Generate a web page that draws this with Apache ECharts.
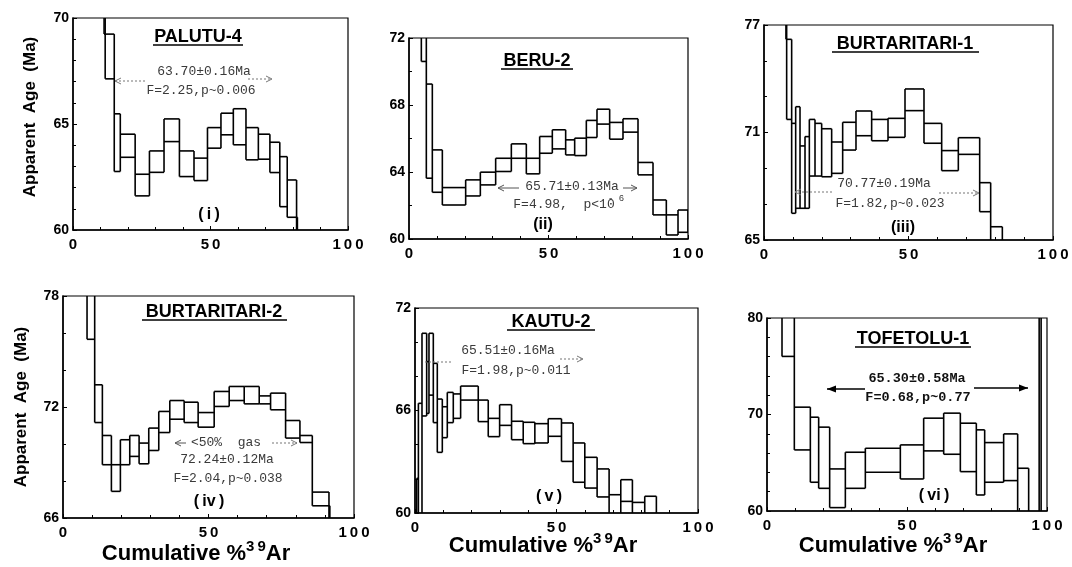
<!DOCTYPE html>
<html><head><meta charset="utf-8">
<script src="https://cdn.jsdelivr.net/npm/echarts/dist/echarts.min.js"></script>
<style>html,body{margin:0;padding:0;background:#fff}#c{width:1072px;height:567px}</style>
</head><body><div id="c"></div><script>
// ---------- DATA (cumulative %39Ar step boundaries, age box top/bottom in Ma) ----------
const palutuSteps = [11.3, 11.7, 15.0, 17.2, 22.6, 27.8, 33.1, 38.7, 44.0, 48.9, 53.8, 58.3, 62.9, 67.4, 71.6, 75.2, 77.9, 81.3, 81.6];
const palutuHi = [80, 69.24, 65.48, 64.52, 62.63, 63.73, 65.24, 63.73, 63.39, 64.83, 65.51, 65.72, 64.83, 64.52, 64.14, 63.46, 62.36, 60.60];
const palutuLo = [69.24, 67.13, 62.76, 63.43, 61.61, 62.72, 64.17, 62.52, 62.33, 63.86, 64.49, 64.02, 63.31, 63.34, 62.71, 61.10, 60.60, 50];

const beruSteps = [4.42, 6.21, 8.36, 11.95, 20.31, 25.57, 31.06, 36.68, 42.05, 46.83, 51.37, 56.15, 59.38, 63.56, 67.38, 71.92, 76.70, 82.08, 87.46, 92.23, 96.42, 100];
const beruHi = [80, 69.25, 65.32, 63.07, 63.53, 63.99, 64.82, 65.68, 64.82, 66.12, 66.52, 65.92, 66.02, 67.08, 67.75, 66.96, 67.18, 64.57, 62.33, 61.44, 61.73];
const beruLo = [70.6, 63.63, 62.79, 62.03, 62.57, 63.23, 64.03, 64.82, 63.89, 65.12, 65.38, 65.02, 64.98, 66.06, 66.86, 65.96, 66.38, 63.83, 61.44, 60.24, 60.40];

const burt1Steps = [7.6, 7.84, 9.57, 10.96, 12.46, 14.19, 15.69, 17.65, 19.95, 23.41, 27.22, 31.83, 37.25, 42.91, 48.79, 55.36, 61.48, 67.24, 74.63, 78.43, 82.47];
const burt1Hi = [80, 76.2, 71.51, 72.44, 70.25, 70.77, 71.73, 71.51, 71.21, 70.47, 71.57, 72.2, 71.73, 71.79, 73.43, 71.51, 69.99, 70.71, 68.2, 65.74];
const burt1Lo = [76.2, 71.73, 66.49, 66.77, 66.77, 66.77, 68.57, 68.57, 68.53, 68.72, 70.02, 70.82, 70.54, 70.73, 72.22, 70.40, 68.87, 69.78, 66.58, 60];

const burt2Steps = [8.26, 10.89, 13.53, 16.63, 19.72, 22.94, 26.15, 29.47, 32.91, 36.70, 41.63, 46.44, 51.95, 57.11, 62.27, 67.43, 71.33, 76.49, 81.42, 85.67, 91.40, 91.7];
const burt2Hi = [85, 73.2, 70.46, 68.88, 70.23, 70.46, 70.05, 70.86, 71.76, 72.35, 72.26, 71.70, 72.84, 73.11, 73.11, 72.6, 72.75, 71.27, 70.46, 67.40, 66.66];
const burt2Lo = [75.66, 71.16, 68.88, 67.44, 68.88, 69.33, 68.93, 69.65, 70.62, 71.34, 71.16, 70.91, 72.03, 72.35, 72.17, 72.17, 71.85, 70.32, 70.08, 66.66, 50];

const kautuSteps = [0.6, 1.2, 2.47, 4.12, 4.94, 6.47, 7.88, 9.65, 11.41, 13.53, 16.12, 22.35, 25.88, 29.9, 34.12, 38.24, 42.35, 47.06, 51.76, 55.88, 60.0, 64.35, 68.59, 72.71, 76.82, 81.18, 85.29];
const kautuHi = [62.03, 66.42, 70.52, 68.86, 70.52, 68.76, 66.67, 66.22, 67.06, 66.97, 67.43, 66.61, 65.54, 66.34, 65.37, 65.31, 65.23, 65.52, 65.27, 64.10, 63.26, 62.58, 61.07, 61.95, 60.62, 60.98];
const kautuLo = [50, 50, 65.68, 65.83, 66.9, 65.29, 63.55, 64.41, 65.29, 65.54, 66.61, 65.35, 64.47, 65.13, 64.29, 64.06, 64.10, 64.49, 63.02, 61.80, 61.46, 60.94, 59.5, 60.68, 59.5, 59.5];

const tofeSteps = [5.36, 9.76, 15.48, 18.45, 22.38, 27.98, 35.12, 47.62, 55.95, 63.10, 69.05, 74.76, 77.74, 84.52, 89.52, 93.45, 97.2, 97.9];
const tofeHi = [85, 70.76, 69.72, 68.69, 64.36, 66.09, 66.51, 66.85, 69.62, 70.14, 69.10, 68.41, 67.09, 67.99, 64.43, 58, 90];
const tofeLo = [76.02, 66.33, 62.98, 62.35, 60.35, 62.35, 64.01, 63.32, 66.23, 65.88, 64.08, 61.66, 62.98, 63.15, 55, 55, 50];

const panelNames = ['PALUTU-4', 'BERU-2', 'BURTARITARI-1', 'BURTARITARI-2', 'KAUTU-2', 'TOFETOLU-1'];
const xTicks = [0, 50, 100];
const yTicks = [[60, 65, 70], [60, 64, 68, 72], [65, 71, 77], [66, 72, 78], [60, 66, 72], [60, 70, 80]];

// ---------- LAYOUT ----------
const panels = [
  {steps: palutuSteps, hi: palutuHi, lo: palutuLo, ySplit: 5, grid: {left: 73, top: 18, width: 275, height: 212}},
  {steps: beruSteps, hi: beruHi, lo: beruLo, ySplit: 2, grid: {left: 409, top: 38, width: 279, height: 201}},
  {steps: burt1Steps, hi: burt1Hi, lo: burt1Lo, ySplit: 3, grid: {left: 764, top: 25, width: 289, height: 215}},
  {steps: burt2Steps, hi: burt2Hi, lo: burt2Lo, ySplit: 3, grid: {left: 63, top: 296, width: 291, height: 222}},
  {steps: kautuSteps, hi: kautuHi, lo: kautuLo, ySplit: 3, grid: {left: 415, top: 308, width: 283, height: 205}},
  {steps: tofeSteps, hi: tofeHi, lo: tofeLo, ySplit: 5, grid: {left: 767, top: 318, width: 280, height: 193}}
];
const titlePos = [[198, 37, 153, 243, 45], [537, 61, 501, 573, 69], [905, 44, 832, 979, 52], [214, 312, 142, 287, 320], [551, 322, 507, 595, 330], [913, 339, 855, 971, 347]];

const grids = [], xAxes = [], yAxes = [], series = [];
const spaced = v => String(v).split('').join('\u2009');
panels.forEach((p, i) => {
  const yt = yTicks[i];
  const yInt = yt[1] - yt[0];
  grids.push(Object.assign({show: true, borderColor: '#000', borderWidth: 1.2, backgroundColor: 'transparent'}, p.grid));
  xAxes.push({
    gridIndex: i, type: 'value', min: xTicks[0], max: xTicks[xTicks.length - 1], interval: xTicks[1] - xTicks[0],
    axisLine: {show: true, onZero: false, lineStyle: {color: '#000', width: 1.5}},
    axisTick: {show: true, inside: true, length: 4, lineStyle: {color: '#000', width: 1}},
    minorTick: {show: true, splitNumber: 5, length: 3, lineStyle: {color: '#000', width: 1}},
    splitLine: {show: false},
    axisLabel: {color: '#000', fontWeight: 'bold', fontSize: 15, fontFamily: 'Liberation Sans', margin: 7, formatter: spaced}
  });
  yAxes.push({
    gridIndex: i, type: 'value', min: yt[0], max: yt[yt.length - 1], interval: yInt,
    axisLine: {show: true, onZero: false, lineStyle: {color: '#000', width: 1.5}},
    axisTick: {show: true, inside: true, length: 4, lineStyle: {color: '#000', width: 1}},
    minorTick: {show: true, splitNumber: p.ySplit, length: 3, lineStyle: {color: '#000', width: 1}},
    splitLine: {show: false},
    axisLabel: {color: '#000', fontWeight: 'bold', fontSize: 14, fontFamily: 'Liberation Sans', margin: 4}
  });
  // each item: [x0, x1, lo, hi, left-connector low, left-connector high, isLast]
  const n = p.hi.length;
  const data = p.hi.map((h, k) => {
    const l = p.lo[k];
    const cl = k > 0 ? Math.min(l, p.lo[k - 1]) : l;
    const ch = k > 0 ? Math.max(h, p.hi[k - 1]) : h;
    return [p.steps[k], p.steps[k + 1], l, h, cl, ch, k === n - 1 ? 1 : 0];
  });
  series.push({
    type: 'custom', xAxisIndex: i, yAxisIndex: i, clip: true, silent: true,
    encode: {x: [0, 1], y: [2, 3]},
    data: data,
    renderItem: function (params, api) {
      const x0 = api.value(0), x1 = api.value(1), lo = api.value(2), hi = api.value(3);
      const tl = api.coord([x0, hi]), br = api.coord([x1, lo]);
      const c0 = api.coord([x0, api.value(4)]), c1 = api.coord([x0, api.value(5)]);
      const st = {stroke: '#000', lineWidth: 1.6, fill: null};
      const kids = [
        {type: 'line', shape: {x1: tl[0], y1: tl[1], x2: br[0], y2: tl[1]}, style: st},
        {type: 'line', shape: {x1: tl[0], y1: br[1], x2: br[0], y2: br[1]}, style: st},
        {type: 'line', shape: {x1: c0[0], y1: c0[1], x2: c1[0], y2: c1[1]}, style: st}
      ];
      if (api.value(6) === 1) {
        kids.push({type: 'line', shape: {x1: br[0], y1: tl[1], x2: br[0], y2: br[1]}, style: st});
      }
      return {type: 'group', children: kids};
    }
  });
});

// ---------- ANNOTATIONS ----------
const g = [];
const MONO = '"Liberation Mono", "DejaVu Sans Mono", monospace';
function txt(x, y, text, font, color, extra) {
  g.push(Object.assign({type: 'text', x: x, y: y, z: 50,
    style: {text: text, font: font, fill: color || '#000', align: 'center', verticalAlign: 'middle'}}, extra || {}));
}
function arrow(x1, x2, y, color, dash, w, filled) {
  const d = Math.sign(x2 - x1);
  g.push({type: 'line', z: 50, shape: {x1: x1, y1: y, x2: x2, y2: y}, style: {stroke: color, lineWidth: w, lineDash: dash || null}});
  if (filled) {
    g.push({type: 'polygon', z: 50, shape: {points: [[x2 - d * 9, y - 3.5], [x2, y], [x2 - d * 9, y + 3.5]]}, style: {fill: color}});
  } else {
    g.push({type: 'polyline', z: 50, shape: {points: [[x2 - d * 6, y - 3], [x2, y], [x2 - d * 6, y + 3]]}, style: {stroke: color, lineWidth: w, fill: null}});
  }
}
panelNames.forEach((n, i) => {
  const t = titlePos[i];
  txt(t[0], t[1], n, 'bold 18px "Liberation Sans"', '#000');
  g.push({type: 'line', z: 50, shape: {x1: t[2], y1: t[4], x2: t[3], y2: t[4]}, style: {stroke: '#000', lineWidth: 1.3}});
});
const AC = '#3a3a3a';
const AF = '13px ' + MONO;
// (i)
txt(204, 72, '63.70±0.16Ma', AF, AC);
txt(201, 91, 'F=2.25,p~0.006', AF, AC);
arrow(145, 115, 81, '#777', [2, 2], 1);
arrow(248, 272, 79, '#777', [2, 2], 1);
txt(209, 215, '(\u2009i\u2009)', 'bold 16px "Liberation Sans"');
// (ii)
txt(572, 187, '65.71±0.13Ma', AF, AC);
arrow(519, 498, 188, '#555', null, 1);
arrow(623, 637, 188, '#555', null, 1);
txt(564, 205, 'F=4.98,  p<10', AF, AC);
txt(616, 199, '- 6', '9px ' + MONO, AC);
txt(543, 225, '(ii)', 'bold 16px "Liberation Sans"');
// (iii)
txt(884, 184, '70.77±0.19Ma', AF, AC);
txt(890, 204, 'F=1.82,p~0.023', AF, AC);
arrow(832, 795, 192, '#777', [2, 2], 1);
arrow(939, 979, 193, '#777', [2, 2], 1);
txt(903, 228, '(iii)', 'bold 16px "Liberation Sans"');
// (iv)
txt(226, 443, '<50%  gas', AF, AC);
arrow(186, 175, 443, '#555', null, 1);
arrow(272, 297, 443, '#777', [2, 2], 1);
txt(227, 460, '72.24±0.12Ma', AF, AC);
txt(228, 479, 'F=2.04,p~0.038', AF, AC);
txt(209, 502, '(\u2009iv\u2009)', 'bold 16px "Liberation Sans"');
// (v)
txt(508, 351, '65.51±0.16Ma', AF, AC);
txt(516, 371, 'F=1.98,p~0.011', AF, AC);
g.push({type: 'line', z: 50, shape: {x1: 425, y1: 362, x2: 453, y2: 362}, style: {stroke: '#777', lineWidth: 1, lineDash: [2, 2]}});
arrow(560, 583, 359, '#777', [2, 2], 1);
txt(549, 497, '(\u2009v\u2009)', 'bold 16px "Liberation Sans"');
// (vi)
txt(917, 379, '65.30±0.58Ma', 'bold 13.5px ' + MONO, '#111');
txt(918, 398, 'F=0.68,p~0.77', 'bold 13.5px ' + MONO, '#111');
arrow(865, 827, 389, '#000', null, 1.4, true);
arrow(974, 1028, 388, '#000', null, 1.4, true);
txt(934, 496, '(\u2009vi\u2009)', 'bold 16px "Liberation Sans"');
// axis titles
const yTitle = 'Apparent  Age  (Ma)';
txt(30, 117, yTitle, 'bold 17px "Liberation Sans"', '#000', {rotation: Math.PI / 2});
txt(21, 407, yTitle, 'bold 17px "Liberation Sans"', '#000', {rotation: Math.PI / 2});
function xTitle(x, y) {
  g.push({type: 'text', x: x, y: y, z: 50, style: {
    text: '{a|Cumulative %}{s|3\u20099}{a|Ar}', align: 'center', verticalAlign: 'middle',
    rich: {
      a: {fontSize: 22, fontWeight: 'bold', fontFamily: 'Liberation Sans', fill: '#000', lineHeight: 26, verticalAlign: 'bottom'},
      s: {fontSize: 15, fontWeight: 'bold', fontFamily: 'Liberation Sans', fill: '#000', lineHeight: 15, verticalAlign: 'top'}
    }}});
}
xTitle(196, 552);
xTitle(543, 544);
xTitle(893, 544);

const chart = echarts.init(document.getElementById('c'), null, {renderer: 'canvas'});
chart.setOption({
  animation: false,
  backgroundColor: '#fff',
  grid: grids, xAxis: xAxes, yAxis: yAxes, series: series, graphic: g
});
</script></body></html>
